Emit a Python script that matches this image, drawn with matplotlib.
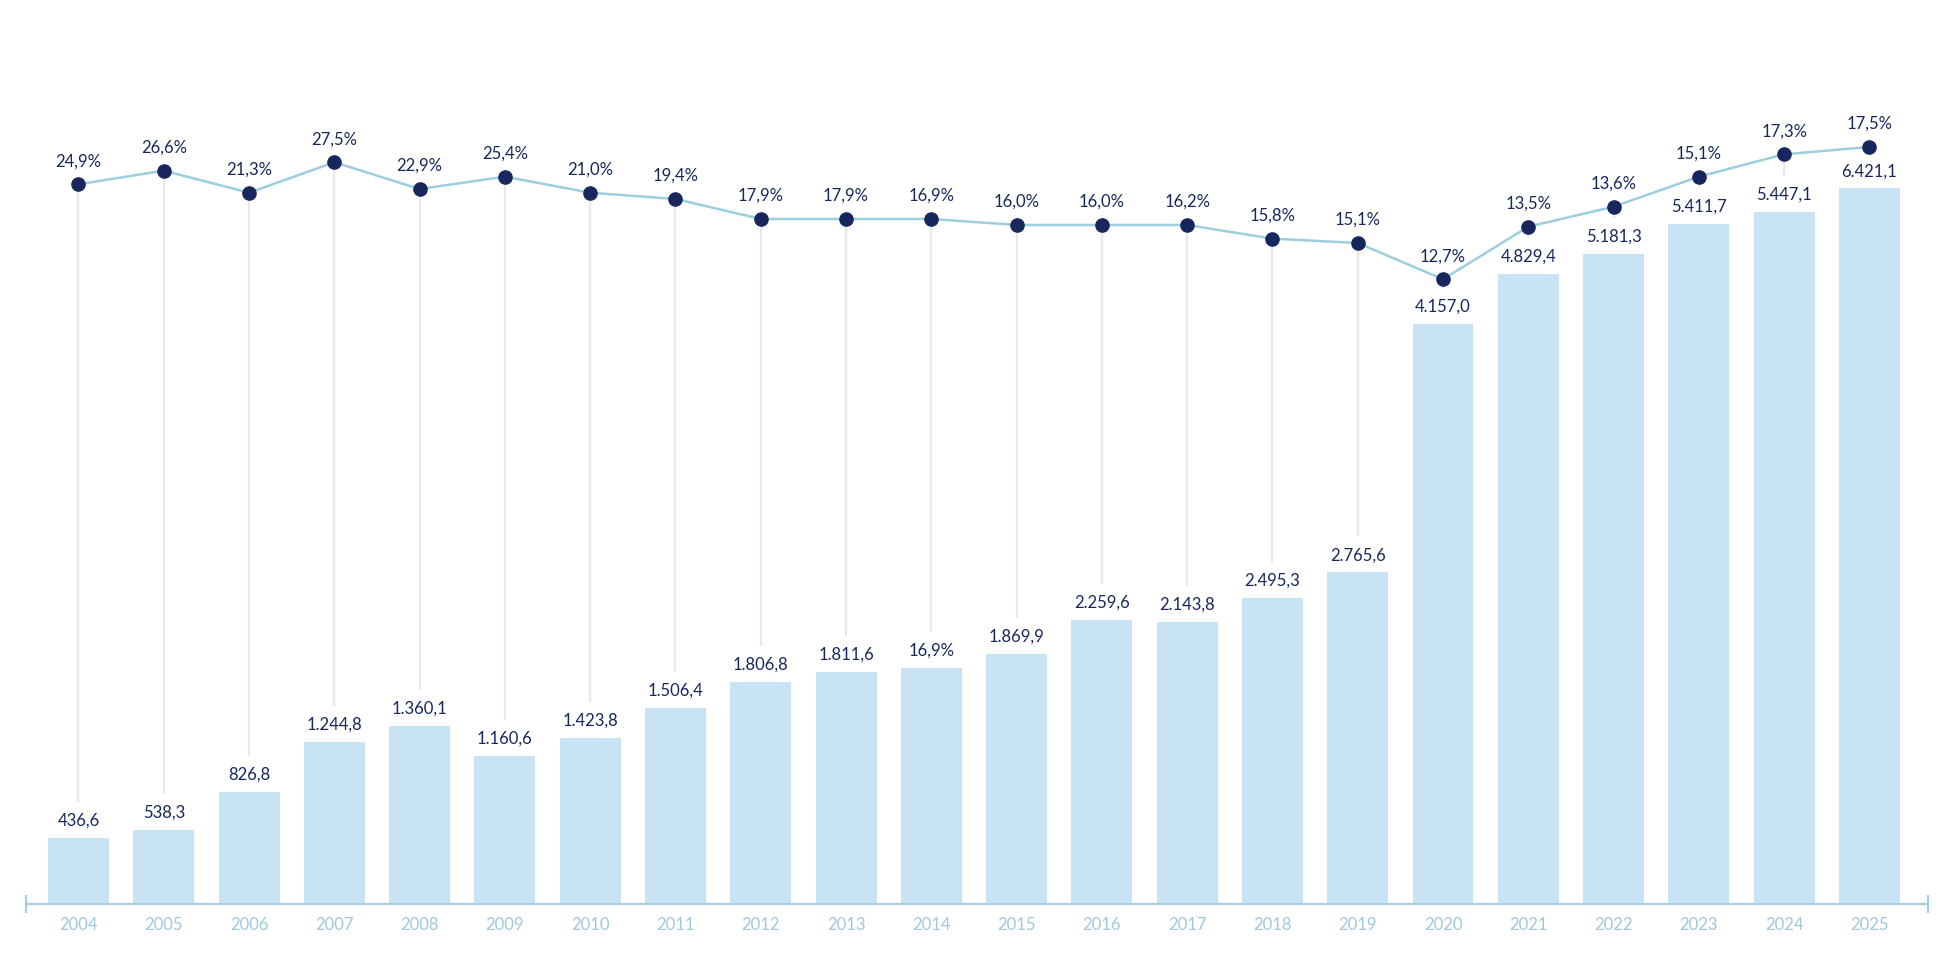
import matplotlib
matplotlib.use("Agg")
import matplotlib.pyplot as plt
import numpy as np

plt.rcParams['font.family'] = ['Lato', 'DejaVu Sans']

years = [str(y) for y in range(2004, 2026)]

# bar heights as drawn in the reference (nominal units)
bar_heights = [592, 664, 1005, 1453, 1597, 1328, 1489, 1758, 1992, 2081, 2117,
               2243, 2548, 2530, 2745, 2976, 5204, 5652, 5832, 6101, 6208, 6421]
bar_labels = ["436,6", "538,3", "826,8", "1.244,8", "1.360,1", "1.160,6", "1.423,8",
              "1.506,4", "1.806,8", "1.811,6", "16,9%", "1.869,9", "2.259,6", "2.143,8",
              "2.495,3", "2.765,6", "4.157,0", "4.829,4", "5.181,3", "5.411,7",
              "5.447,1", "6.421,1"]

# line level as drawn in the reference (nominal percent units)
line_values = [24.72, 26.44, 23.65, 27.5, 24.12, 25.68, 23.65, 22.86, 20.33, 20.33,
               20.33, 19.57, 19.57, 19.57, 17.84, 17.29, 12.7, 19.35, 21.88, 25.68,
               28.51, 29.44]
line_labels = ["24,9%", "26,6%", "21,3%", "27,5%", "22,9%", "25,4%", "21,0%", "19,4%",
               "17,9%", "17,9%", "16,9%", "16,0%", "16,0%", "16,2%", "15,8%", "15,1%",
               "12,7%", "13,5%", "13,6%", "15,1%", "17,3%", "17,5%"]

BAR = "#c8e4f4"
NAVY = "#17275e"
LINE = "#9ccfdd"
AXIS = "#a6d0e0"
YEAR = "#9ec9dc"
GRAY = "#e8e8e8"

W, H = 1948, 966
fig = plt.figure(figsize=(W / 100, H / 100), dpi=100)
left, right, bottom = 26, 1928, 904
ax = fig.add_axes([left / W, 1 - bottom / H, (right - left) / W, bottom / H])
ax2 = ax.twinx()

x = np.arange(len(years))
xmin, xmax = -0.6156, 21.687
ax.set_xlim(xmin, xmax)
ax.set_ylim(0, 8110.6)
ax2.set_ylim(-66.33, 48.03)

ax.bar(x, bar_heights, width=0.715, color=BAR, zorder=1)

for xi, h, lab in zip(x, bar_heights, bar_labels):
    ax.annotate(lab, (xi, h), xytext=(0, 17), textcoords='offset pixels',
                ha='center', va='center', fontsize=12, color=NAVY, zorder=5)

# connectors from points down toward bar labels
fig.canvas.draw()
for xi, h, v in zip(x, bar_heights, line_values):
    top_disp = ax2.transData.transform((xi, v))[1]
    bot_disp = ax.transData.transform((xi, h))[1] + 36
    if bot_disp < top_disp:
        bot_val = ax2.transData.inverted().transform((0, bot_disp))[1]
        ax2.plot([xi, xi], [bot_val, v], color=GRAY, lw=1.6, zorder=1,
                 solid_capstyle='butt')

ax2.plot(x, line_values, color=LINE, lw=1.8, zorder=3)
ax2.plot(x, line_values, 'o', color=NAVY, markersize=9.5, zorder=4)
for xi, v, lab in zip(x, line_values, line_labels):
    ax2.annotate(lab, (xi, v), xytext=(0, 23), textcoords='offset pixels',
                 ha='center', va='center', fontsize=12, color=NAVY, zorder=5)

for a in (ax, ax2):
    for s in ('top', 'right', 'left'):
        a.spines[s].set_visible(False)
    a.set_yticks([])
ax2.spines['bottom'].set_visible(False)
ax.spines['bottom'].set_color(AXIS)
ax.spines['bottom'].set_linewidth(1.6)

ax.set_xticks([xmin, xmax], labels=['', ''])
ax.tick_params(axis='x', which='major', direction='inout', length=13,
               width=1.6, color=AXIS)
ax.set_xticks(x, labels=years, minor=True)
ax.tick_params(axis='x', which='minor', length=0, pad=9.5, labelsize=12,
               labelcolor=YEAR)

fig.savefig("out.png", dpi=100)
